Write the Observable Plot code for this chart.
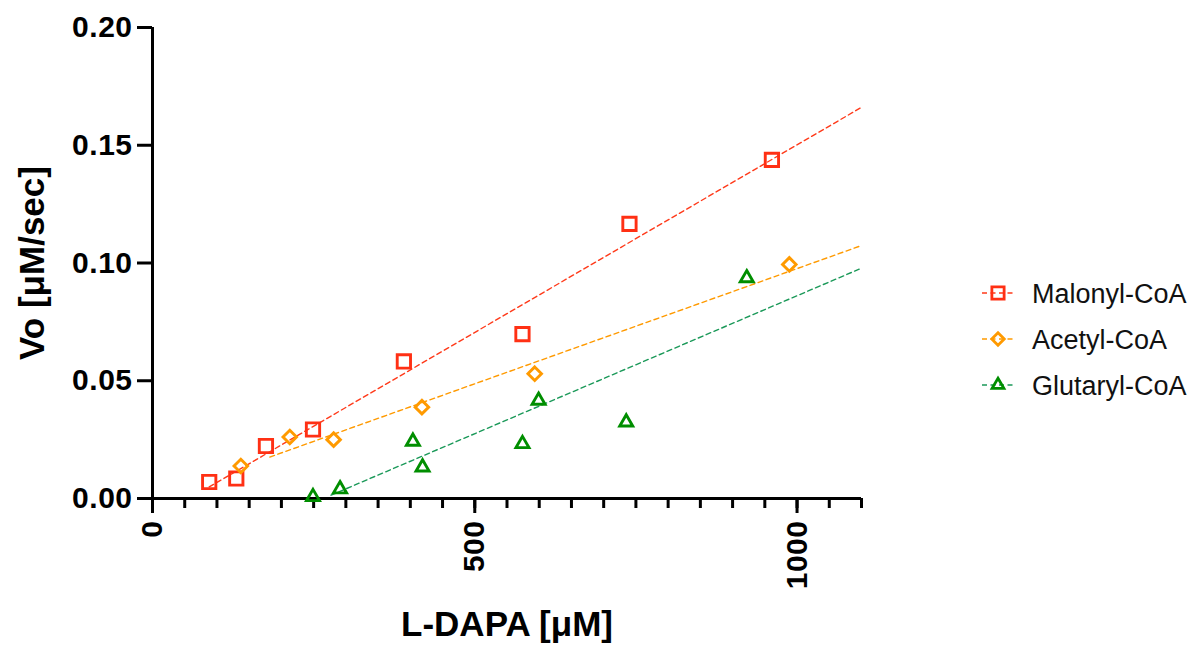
<!DOCTYPE html>
<html><head><meta charset="utf-8">
<script src="https://cdn.jsdelivr.net/npm/d3@7"></script>
<script src="https://cdn.jsdelivr.net/npm/@observablehq/plot@0.6"></script>
<style>
body{margin:0;background:#fff;}
#wrap{position:relative;width:1196px;height:655px;overflow:hidden;}
#chart svg g[aria-label$="tick label"] text{letter-spacing:0.5px;}
#legend{position:absolute;left:0;top:0;}
</style></head><body>
<div id="wrap"><div id="chart"></div></div>
<script>
// ---- data ----
const series = ["Malonyl-CoA", "Acetyl-CoA", "Glutaryl-CoA"];
const markerColors = ["#FF3014", "#FF9A00", "#008E00"];
const lineColors = ["#FF3A1A", "#FF9A00", "#1B9959"];
const symbols = ["square", "diamond2", "triangle2"];

const malonylX = [88, 130, 176, 249, 390, 574, 740, 961];
const malonylY = [0.0070, 0.0085, 0.0223, 0.0293, 0.0582, 0.0698, 0.1166, 0.1438];
const acetylX = [137, 213, 281, 418, 593, 988];
const acetylY = [0.0138, 0.0261, 0.0250, 0.0388, 0.0530, 0.0994];
const glutarylX = [249, 291, 404, 419, 574, 599, 735, 922];
const glutarylY = [0.0007, 0.0040, 0.0242, 0.0133, 0.0232, 0.0416, 0.0324, 0.0936];

// fitted (dashed) lines: start and end points
const fitX0 = [88, 182, 277];
const fitY0 = [0.0049, 0.0176, 0.0014];
const fitX1 = [1100, 1100, 1100];
const fitY1 = [0.1661, 0.1074, 0.0978];

const xTicks = [0, 500, 1000];
const xMinorTicks = d3.range(0, 1101, 50);
const yTicks = [0, 0.05, 0.10, 0.15, 0.20];
const xLabel = "L-DAPA [μM]";
const yLabel = "Vo [μM/sec]";

// ---- build tables ----
const xs = [malonylX, acetylX, glutarylX];
const ys = [malonylY, acetylY, glutarylY];
const points = [];
series.forEach((s, i) => xs[i].forEach((x, j) => points.push({series: s, x, y: ys[i][j]})));
const fits = [];
series.forEach((s, i) => {
  fits.push({series: s, x: fitX0[i], y: fitY0[i]});
  fits.push({series: s, x: fitX1[i], y: fitY1[i]});
});

const font = "'Liberation Sans', Arial, sans-serif";

const chart = Plot.plot({
  width: 1196,
  height: 655,
  marginLeft: 152,
  marginRight: 335,
  marginTop: 27,
  marginBottom: 157,
  style: {fontFamily: font, color: "#000", background: "#fff", overflow: "visible"},
  x: {domain: [0, 1100]},
  y: {domain: [0, 0.2]},
  marks: [
    Plot.axisX(xMinorTicks, {tickSize: 10, strokeWidth: 3, tickFormat: () => "", label: null}),
    Plot.axisX(xTicks, {tickSize: 15, tickPadding: 7, tickRotate: -90, strokeWidth: 3,
      tickFormat: d => String(d), fontSize: 30, fontWeight: "bold", label: null}),
    Plot.axisY(yTicks, {tickSize: 15, tickPadding: 5, strokeWidth: 3,
      tickFormat: d => d.toFixed(2), fontSize: 30, fontWeight: "bold", label: null}),
    Plot.ruleX([0], {strokeWidth: 3}),
    Plot.ruleY([0], {strokeWidth: 3}),
    ...series.map((s, i) => Plot.line(fits.filter(d => d.series === s), {
      x: "x", y: "y", stroke: lineColors[i], strokeWidth: 1.4, strokeDasharray: "5,3.5"
    })),
    ...series.map((s, i) => Plot.dot(points.filter(d => d.series === s), {
      x: "x", y: "y", symbol: () => symbols[i], stroke: markerColors[i], fill: "none",
      strokeWidth: 2.9, r: [7.5, 6.1, 6.2][i]
    })),
    Plot.text([xLabel], {text: d => d, frameAnchor: "bottom", dy: 137,
      fontSize: 35, fontWeight: "bold"}),
    Plot.text([yLabel], {text: d => d, frameAnchor: "left", textAnchor: "middle", dx: -120, rotate: -90,
      fontSize: 35, fontWeight: "bold"})
  ]
});
document.getElementById("chart").appendChild(chart);

// ---- legend ----
const legend = d3.select("#wrap").append("svg").attr("id", "legend")
  .attr("width", 1196).attr("height", 655);
const symbolTypes = {square: d3.symbolSquare, diamond2: d3.symbolDiamond2, triangle2: d3.symbolTriangle2};
const legendSizes = [150, 100, 100];
series.forEach((s, i) => {
  const g = legend.append("g").attr("transform", `translate(0,${293 + i * 46})`);
  g.append("line").attr("x1", 982).attr("x2", 1014).attr("y1", 0).attr("y2", 0)
    .attr("stroke", lineColors[i]).attr("stroke-width", 1.4).attr("stroke-dasharray", "5,3.5");
  g.append("path").attr("d", d3.symbol(symbolTypes[symbols[i]], legendSizes[i])())
    .attr("transform", "translate(998,0)")
    .attr("fill", "none").attr("stroke", markerColors[i]).attr("stroke-width", 2.8);
  g.append("text").attr("x", 1032).attr("y", 0).attr("dy", "0.36em")
    .attr("font-family", font).attr("font-size", 27).attr("fill", "#111")
    .text(s);
});
</script>
</body></html>
